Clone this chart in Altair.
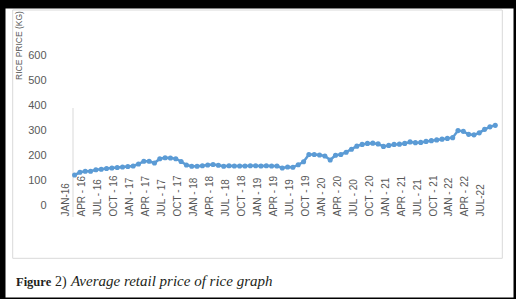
import altair as alt
import pandas as pd

# Monthly average retail price of rice, JAN-16 .. AUG-22
price = [122, 133, 137, 137, 143, 145, 148, 150, 152, 154,
         156, 158, 166, 177, 177, 170, 187, 191, 190, 187,
         176, 162, 157, 157, 159, 162, 164, 161, 157, 159,
         158, 158, 158, 159, 159, 158, 159, 158, 158, 150,
         154, 153, 163, 175, 204, 204, 202, 198, 182, 201,
         204, 213, 225, 237, 244, 248, 249, 246, 236, 240,
         244, 245, 248, 254, 251, 252, 256, 259, 262, 265,
         268, 271, 299, 296, 284, 282, 290, 304, 314, 320]
month_idx = list(range(len(price)))

x_labels = ["JAN-16", "APR - 16", "JUL - 16", "OCT - 16",
            "JAN - 17", "APR - 17", "JUL - 17", "OCT - 17",
            "JAN - 18", "APR - 18", "JUL - 18", "OCT - 18",
            "JAN - 19", "APR - 19", "JUL - 19", "OCT - 19",
            "JAN - 20", "APR - 20", "JUL - 20", "OCT - 20",
            "JAN - 21", "APR - 21", "JUL - 21", "OCT - 21",
            "JAN - 22", "APR - 22", "JUL-22"]
x_label_idx = [3 * k for k in range(len(x_labels))]
x_tick_vals = [-0.3 + 3 * k for k in range(len(x_labels))]

y_ticks = [0, 100, 200, 300, 400, 500, 600]
y_title = ["RICE PRICE (KG)"]
caption_bold = ["Figure"]
caption_num = ["2)"]
caption_italic = ["Average retail price of rice graph"]

LINE = "#5B9BD5"
GRAY = "#595959"
LIGHT = "#d9d9d9"
FONT = "Liberation Sans"
SERIF = "Liberation Serif"
INK = "#231f20"

xscale = alt.Scale(domain=[-0.3, 79.7], range=[68, 494], nice=False, zero=False)
yscale = alt.Scale(domain=[0, 600], range=[197.7, 47], nice=False, zero=False)

series = pd.DataFrame({"idx": month_idx, "price": price})
labels_df = pd.DataFrame({"idx": x_label_idx, "lab": x_labels})
one = pd.DataFrame({"k": [0]})

box = alt.Chart(one).mark_rect(fillOpacity=0, stroke=LIGHT, strokeWidth=1).encode(
    x=alt.value(7.7), x2=alt.value(497.3), y=alt.value(2), y2=alt.value(250.3)
)

vline = alt.Chart(one).mark_rule(color=LIGHT, strokeWidth=1).encode(
    x=alt.value(68), y=alt.value(100), y2=alt.value(209)
)

line = alt.Chart(series).mark_line(
    color=LINE, strokeWidth=2.5,
    point=alt.OverlayMarkDef(filled=True, size=26, color=LINE),
).encode(
    x=alt.X("idx:Q", scale=xscale,
            axis=alt.Axis(values=x_tick_vals, labels=False, grid=False, title=None,
                          domainColor=LIGHT, tickColor=LIGHT, tickSize=3, offset=-80)),
    y=alt.Y("price:Q", scale=yscale,
            axis=alt.Axis(values=y_ticks, domain=False, ticks=False, grid=False, title=None,
                          labelPadding=0, offset=-41, labelFont=FONT, labelFontSize=11,
                          labelColor=GRAY)),
)

xlab = alt.Chart(labels_df).mark_text(
    angle=270, align="left", baseline="middle", dy=-8.5,
    font=FONT, fontSize=10, color=GRAY,
).encode(
    x=alt.X("idx:Q", scale=xscale, axis=None),
    y=alt.value(208.5),
    text="lab:N",
)

ytitle = alt.Chart(pd.DataFrame({"t": y_title})).mark_text(
    angle=270, align="left", baseline="middle", font=FONT, fontSize=8.5, color=GRAY
).encode(x=alt.value(14), y=alt.value(72), text="t:N")

cap1 = alt.Chart(pd.DataFrame({"t": caption_bold})).mark_text(
    align="left", baseline="alphabetic", font=SERIF, fontSize=12.5,
    fontWeight="bold", color=INK
).encode(x=alt.value(11), y=alt.value(278), text="t:N")

cap2 = alt.Chart(pd.DataFrame({"t": caption_num})).mark_text(
    align="left", baseline="alphabetic", font=SERIF, fontSize=14, color=INK
).encode(x=alt.value(50), y=alt.value(278), text="t:N")

cap3 = alt.Chart(pd.DataFrame({"t": caption_italic})).mark_text(
    align="left", baseline="alphabetic", font=SERIF, fontSize=15,
    fontStyle="italic", color=INK
).encode(x=alt.value(66), y=alt.value(278), text="t:N")

chart = alt.layer(box, vline, line, xlab, ytitle, cap1, cap2, cap3).resolve_scale(
    x="shared", y="shared"
).properties(
    width=508, height=289,
    autosize=alt.AutoSizeParams(type="none"),
    padding={"left": 5, "top": 8, "right": 3, "bottom": 2},
    background="black",
).configure_view(fill="white", stroke="transparent")

chart.save("out.html", embed_options={"renderer": "svg", "actions": False})
